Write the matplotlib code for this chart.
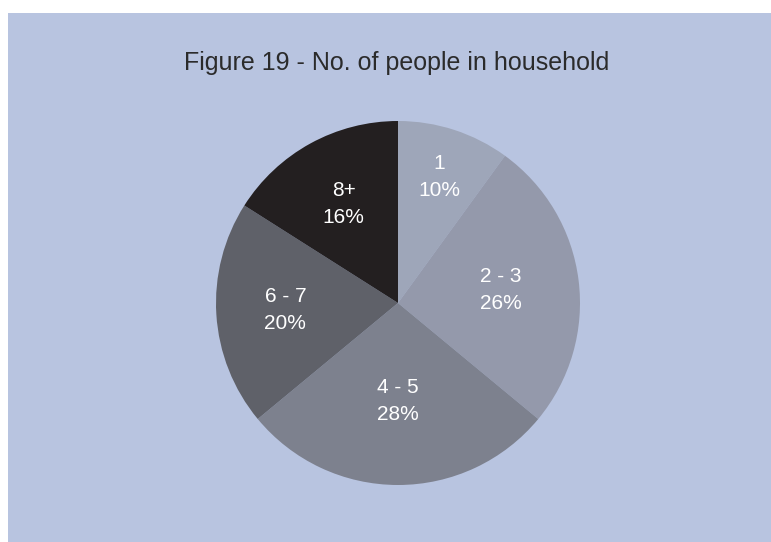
import numpy as np
import matplotlib
matplotlib.use("Agg")
import matplotlib.pyplot as plt
from matplotlib.patches import Rectangle

plt.rcParams['font.family'] = ['Liberation Sans', 'DejaVu Sans']

## Data ##
categories = ["1", "2 - 3", "4 - 5", "6 - 7", "8+"]
shares = [10, 26, 28, 20, 16]
colors = ["#9ea6b9", "#9499ab", "#7d818e", "#5f6169", "#231f20"]
label_radius = [0.73, 0.57, 0.54, 0.62, 0.62]
title = "Figure 19 - No. of people in household"

W, H = 771, 542
fig = plt.figure(figsize=(W / 100, H / 100), dpi=100)
fig.patch.set_facecolor("white")

# shaded panel behind the chart
fig.add_artist(Rectangle((8 / W, 0), 1 - 8 / W, 1 - 13 / H,
                         transform=fig.transFigure, facecolor="#b8c4e0",
                         edgecolor="none", zorder=0))

fig.text(397 / W, 1 - 63 / H, title, ha="center", va="center",
         fontsize=18, color="#2b2b2b")

cx, cy, r = 398, 303, 182
ax = fig.add_axes([(cx - r) / W, (H - cy - r) / H, 2 * r / W, 2 * r / H])
ax.set_facecolor("none")

wedges, _ = ax.pie(shares, colors=colors, startangle=90, counterclock=False,
                   wedgeprops=dict(linewidth=0))
ax.set_aspect("equal")
ax.set_xlim(-1, 1)
ax.set_ylim(-1, 1)
ax.axis("off")

for w, cat, val, rad in zip(wedges, categories, shares, label_radius):
    mid = np.deg2rad((w.theta1 + w.theta2) / 2)
    ax.text(rad * np.cos(mid), rad * np.sin(mid), f"{cat}\n{val}%",
            ha="center", va="center", color="white", fontsize=15,
            linespacing=1.55)

fig.savefig("out.png", dpi=100)
